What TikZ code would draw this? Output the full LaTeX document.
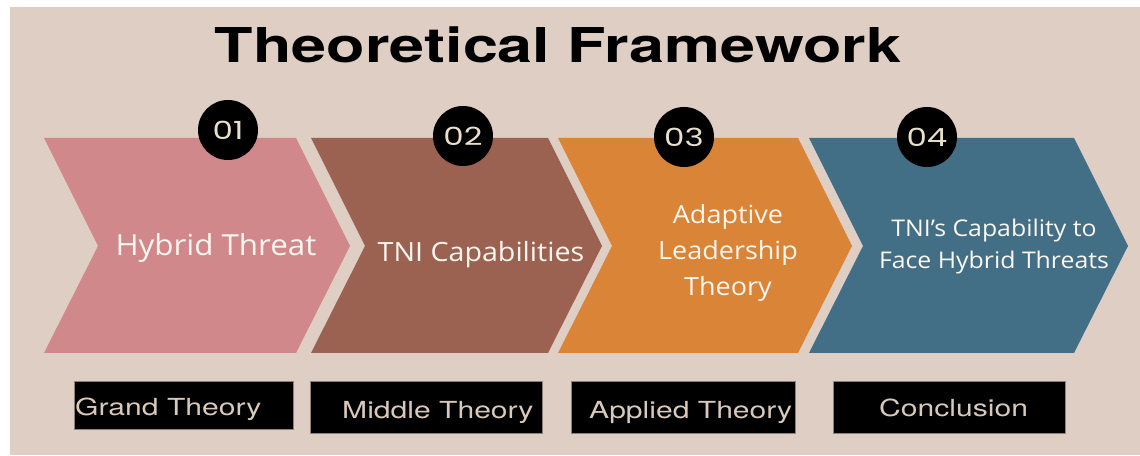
\documentclass[tikz,border=0pt]{standalone}
\usepackage{fontspec}
\setmainfont[FakeStretch=1.08]{Open Sans}
\newfontfamily\titlefont[FakeStretch=1.31]{TeX Gyre Heros}
\newfontfamily\labelfont[FakeStretch=1.28]{TeX Gyre Heros}
\newfontfamily\numfont[FakeStretch=1.3]{Poppins}

\definecolor{bg}{HTML}{DFCEC4}
\definecolor{chevA}{HTML}{D0888A}
\definecolor{chevB}{HTML}{9B6151}
\definecolor{chevC}{HTML}{DA8438}
\definecolor{chevD}{HTML}{426F86}
\definecolor{lighttext}{HTML}{FBF6EF}
\definecolor{numtext}{HTML}{E8E0CC}
\definecolor{labeltext}{HTML}{D9C9BD}
\definecolor{boxedge}{HTML}{8C8079}

% chevron: top-left x, top-right x, colour (depth of point/notch = 54)
\newcommand\chevronshape[3]{%
  \fill[#3] (#1,317) -- (#2,317) -- ({#2+54},209) -- (#2,102) -- (#1,102)
    -- ({#1+54},209) -- cycle;}

\tikzset{
  numcircle/.style={circle, fill=black, minimum size=60pt, inner sep=0pt,
    text=numtext, font=\numfont\fontsize{25}{25}\selectfont},
  chevtext/.style={text=lighttext, align=center, inner sep=0pt},
  labelbox/.style={fill=black, draw=boxedge, line width=0.6pt, inner sep=0pt},
  labeltext/.style={text=labeltext, inner sep=0pt,
    font=\labelfont\fontsize{23.5}{23.5}\selectfont},
}

\begin{document}
\begin{tikzpicture}[x=1pt, y=1pt]
  \useasboundingbox (0,0) rectangle (1140,455);
  \fill[white] (0,0) rectangle (1140,455);
  \fill[bg] (10,0) rectangle (1140,448);

  % title
  \node[inner sep=0pt, font=\titlefont\bfseries\fontsize{48}{48}\selectfont, anchor=base]
    (title) at (558,392) {Theoretical Framework};

  % the four stages
  \chevronshape{44}{296}{chevA}
  \chevronshape{311}{548}{chevB}
  \chevronshape{558}{798}{chevC}
  \chevronshape{809}{1074}{chevD}

  \node[chevtext, anchor=base, font=\fontsize{29}{29}\selectfont]
    (s1) at (216,199) {Hybrid Threat};
  \node[chevtext, anchor=base, font=\fontsize{26.5}{26.5}\selectfont]
    (s2) at (481,193) {TNI Capabilities};
  \node[chevtext, font=\fontsize{25}{36}\selectfont]
    (s3) at (728,202) {Adaptive\\Leadership\\Theory};
  \node[chevtext, font=\fontsize{23}{32}\selectfont]
    (s4) at (994,208) {TNI’s Capability to\\Face Hybrid Threats};

  % step numbers
  \node[numcircle] (n1) at (228,325) {01};
  \node[numcircle] (n2) at (463,319) {02};
  \node[numcircle] (n3) at (684,318) {03};
  \node[numcircle] (n4) at (927,318) {04};

  % theory level labels
  \node[labelbox, minimum width=219pt, minimum height=48pt] (b1) at (183.5,50) {};
  \node[labelbox, minimum width=232pt, minimum height=52pt] (b2) at (426,48) {};
  \node[labelbox, minimum width=224pt, minimum height=52pt] (b3) at (683,48) {};
  \node[labelbox, minimum width=232pt, minimum height=52pt] (b4) at (949,48) {};

  \node[labeltext, anchor=base west] (t1) at (75,39) {Grand Theory};
  \node[labeltext, anchor=base west] (t2) at (342,37) {Middle Theory};
  \node[labeltext, anchor=base west] (t3) at (589,37) {Applied Theory};
  \node[labeltext, anchor=base west] (t4) at (879,38) {Conclusion};
\end{tikzpicture}
\end{document}
